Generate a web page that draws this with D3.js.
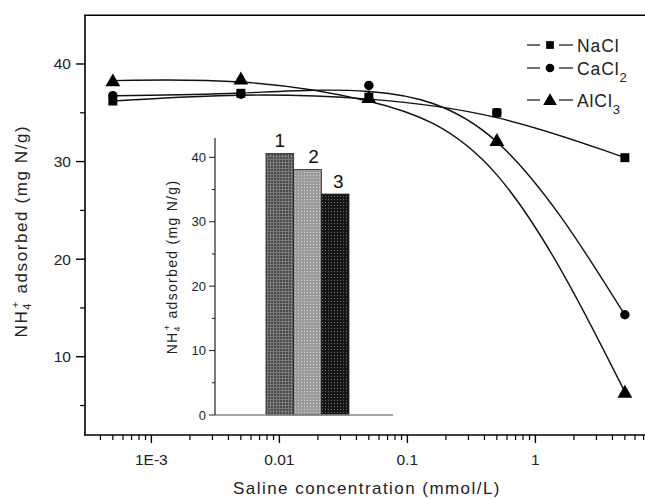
<!DOCTYPE html>
<html><head><meta charset="utf-8">
<script src="https://cdn.jsdelivr.net/npm/d3@7"></script>
<style>
html,body{margin:0;padding:0;background:#fff;}
svg{display:block;font-family:'Liberation Sans',Arial,sans-serif;}
</style></head>
<body>
<svg id="c" width="645" height="499"></svg>
<script>
// ---- data ----
const concentrations = [0.0005, 0.005, 0.05, 0.5, 5];
const nacl  = [36.2, 37.0, 36.6, 35.0, 30.4];
const cacl2 = [36.75, 36.9, 37.8, 35.0, 14.3];
const alcl3 = [38.3, 38.5, 36.6, 32.2, 6.4];
const seriesNames = ["NaCl", "CaCl2", "AlCl3"];
const xTickValues = [0.001, 0.01, 0.1, 1];
const xTickLabels = ["1E-3", "0.01", "0.1", "1"];
const yTickValues = [10, 20, 30, 40];
const insetCategories = ["1", "2", "3"];
const insetValues = [40.6, 38.1, 34.3];
const insetTicks = [0, 10, 20, 30, 40];

const svg = d3.select("#c");

// ---- main scales ----
const x = d3.scaleLog().domain([3.03e-4, 10]).range([85, 663.4]);
const y = d3.scaleLinear().domain([2, 45]).range([434.8, 15.2]);

const defs = svg.append("defs");
defs.append("clipPath").attr("id","clipMain").append("rect")
  .attr("x",85).attr("y",0).attr("width",560).attr("height",436);

// patterns for inset bars
function pat(id, bg, fg, type){
  const p = defs.append("pattern").attr("id",id).attr("patternUnits","userSpaceOnUse")
    .attr("width",3).attr("height",3);
  p.append("rect").attr("width",3).attr("height",3).attr("fill",bg);
  if(type==="grid"){
    p.append("rect").attr("x",0).attr("y",0).attr("width",3).attr("height",1).attr("fill",fg);
    p.append("rect").attr("x",0).attr("y",0).attr("width",1).attr("height",3).attr("fill",fg);
  } else {
    p.append("rect").attr("x",1).attr("y",1).attr("width",1).attr("height",1).attr("fill",fg);
  }
}
pat("p1","#4a4a4a","#7a7a7a","grid");
pat("p2","#9c9c9c","#cfcfcf","dots");
pat("p3","#161616","#6a6a6a","dots");

// ---- main axes ----
const minorX = [];
for (let e=-4; e<=0; e++) for (let k=2; k<=9; k++){
  const v = k*Math.pow(10,e);
  if (v >= 3.03e-4 && x(v) <= 646) minorX.push(v);
}
const gx = svg.append("g");
gx.selectAll("line.minor").data(minorX).join("line")
  .attr("x1",d=>x(d)).attr("x2",d=>x(d)).attr("y1",435).attr("y2",440)
  .attr("stroke","#000").attr("stroke-width",1.2);
gx.selectAll("line.major").data(xTickValues).join("line")
  .attr("x1",d=>x(d)).attr("x2",d=>x(d)).attr("y1",435).attr("y2",443)
  .attr("stroke","#000").attr("stroke-width",1.4);
gx.selectAll("text").data(xTickValues).join("text")
  .attr("x",d=>x(d)).attr("y",465).attr("text-anchor","middle")
  .attr("font-size",15.5).attr("fill","#222")
  .text((d,i)=>xTickLabels[i]);

const gy = svg.append("g");
const minorY = [5,15,25,35];
gy.selectAll("line.minor").data(minorY).join("line")
  .attr("x1",80).attr("x2",85).attr("y1",d=>y(d)).attr("y2",d=>y(d))
  .attr("stroke","#000").attr("stroke-width",1.2);
gy.selectAll("line.major").data(yTickValues).join("line")
  .attr("x1",76).attr("x2",85).attr("y1",d=>y(d)).attr("y2",d=>y(d))
  .attr("stroke","#000").attr("stroke-width",1.4);
gy.selectAll("text").data(yTickValues).join("text")
  .attr("x",71).attr("y",d=>y(d)+5.5).attr("text-anchor","end")
  .attr("font-size",15.5).attr("fill","#222").text(d=>d);

// frame lines
svg.append("line").attr("x1",85).attr("x2",85).attr("y1",y(45)).attr("y2",435.5)
  .attr("stroke","#000").attr("stroke-width",1.6);
svg.append("line").attr("x1",84.2).attr("x2",645).attr("y1",435).attr("y2",435)
  .attr("stroke","#000").attr("stroke-width",1.6);
svg.append("line").attr("x1",84.2).attr("x2",645).attr("y1",y(45)).attr("y2",y(45))
  .attr("stroke","#000").attr("stroke-width",1.6);

// axis titles
const yt = svg.append("text").attr("transform","translate(27,231) rotate(-90)")
  .attr("text-anchor","middle").attr("font-size",17).attr("letter-spacing",1.6).attr("fill","#222");
yt.append("tspan").text("NH");
yt.append("tspan").attr("font-size",11).attr("dy",4).text("4");
yt.append("tspan").attr("font-size",11).attr("dy",-12).attr("dx",-6).text("+");
yt.append("tspan").attr("dy",8).text(" adsorbed (mg N/g)");

svg.append("text").attr("x",367).attr("y",494).attr("text-anchor","middle")
  .attr("font-size",17).attr("letter-spacing",1.45).attr("fill","#222")
  .text("Saline concentration (mmol/L)");

// ---- inset ----
const ix = d3.scaleBand().domain(insetCategories).range([266, 349]).padding(0);
const iy = d3.scaleLinear().domain([0, 43]).range([415, 138]);

const ig = svg.append("g");
ig.selectAll("rect").data(insetValues).join("rect")
  .attr("x",(d,i)=>ix(insetCategories[i])).attr("width",ix.bandwidth())
  .attr("y",d=>iy(d)).attr("height",d=>iy(0)-iy(d))
  .attr("fill",(d,i)=>`url(#p${i+1})`).attr("stroke","#222").attr("stroke-width",0.8);
ig.selectAll("text.bl").data(insetValues).join("text").attr("class","bl")
  .attr("x",(d,i)=>ix(insetCategories[i])+ix.bandwidth()/2+ (i===0?0:(i===1?6:3)))
  .attr("y",d=>iy(d)-6.5).attr("text-anchor","middle").attr("font-size",19).attr("fill","#111")
  .text((d,i)=>insetCategories[i]);
ig.append("line").attr("x1",215).attr("x2",393).attr("y1",iy(0)).attr("y2",iy(0))
  .attr("stroke","#888").attr("stroke-width",1.4);
ig.append("line").attr("x1",215).attr("x2",215).attr("y1",iy(43)).attr("y2",iy(0))
  .attr("stroke","#222").attr("stroke-width",1.2);
ig.selectAll("line.maj").data(insetTicks).join("line").attr("class","maj")
  .attr("x1",209).attr("x2",215).attr("y1",d=>iy(d)).attr("y2",d=>iy(d))
  .attr("stroke","#222").attr("stroke-width",1);
ig.selectAll("line.min").data([5,15,25,35]).join("line").attr("class","min")
  .attr("x1",212).attr("x2",215).attr("y1",d=>iy(d)).attr("y2",d=>iy(d))
  .attr("stroke","#222").attr("stroke-width",1);
ig.selectAll("text.tk").data(insetTicks).join("text").attr("class","tk")
  .attr("x",206).attr("y",d=>iy(d)+4.5).attr("text-anchor","end")
  .attr("font-size",13).attr("fill","#222").text(d=>d);
const it = ig.append("text").attr("transform","translate(177,267) rotate(-90)")
  .attr("text-anchor","middle").attr("font-size",14).attr("letter-spacing",1.3).attr("fill","#222");
it.append("tspan").text("NH");
it.append("tspan").attr("font-size",9).attr("dy",3).text("4");
it.append("tspan").attr("font-size",9).attr("dy",-10).attr("dx",-5).text("+");
it.append("tspan").attr("dy",7).text(" adsorbed (mg N/g)");

// ---- curves & markers ----
const series = [nacl, cacl2, alcl3];
const shapes = [d3.symbolSquare, d3.symbolCircle, d3.symbolTriangle];
const sizes = [80, 70, 95];
const line = d3.line().curve(d3.curveBasis).x((d,i)=>x(concentrations[i])).y(d=>y(d));
const pg = svg.append("g").attr("clip-path","url(#clipMain)");
series.forEach((s,k)=>{
  pg.append("path").attr("d",line(s)).attr("fill","none").attr("stroke","#111").attr("stroke-width",1.4);
});
// marker draw order: circles, triangles, squares
[1,2,0].forEach(k=>{
  const s = series[k];
  pg.selectAll(null).data(s).join("path")
    .attr("transform",(d,i)=>`translate(${x(concentrations[i])},${y(d) + (k===2?1.5:0)})`)
    .attr("d",d3.symbol().type(shapes[k]).size(sizes[k])).attr("fill","#000");
});

// ---- legend ----
const legendY = [45, 68, 100];
const lg = svg.append("g");
seriesNames.forEach((name,k)=>{
  const yy = legendY[k];
  lg.append("line").attr("x1",527).attr("x2",540).attr("y1",yy).attr("y2",yy).attr("stroke","#222").attr("stroke-width",1.3);
  lg.append("line").attr("x1",559).attr("x2",573).attr("y1",yy).attr("y2",yy).attr("stroke","#222").attr("stroke-width",1.3);
  lg.append("path").attr("transform",`translate(550,${yy + (k===2?1:0)})`)
    .attr("d",d3.symbol().type(shapes[k]).size(k===2?80:60)).attr("fill","#000");
  const t = lg.append("text").attr("x",577).attr("y",yy+6.5).attr("font-size",17.5)
    .attr("letter-spacing",0.9).attr("fill","#222");
  const m = name.match(/^(.*?)(\d*)$/);
  t.append("tspan").text(m[1]);
  if (m[2]) t.append("tspan").attr("font-size",13).attr("dy",7).text(m[2]);
});
</script>
</body></html>
